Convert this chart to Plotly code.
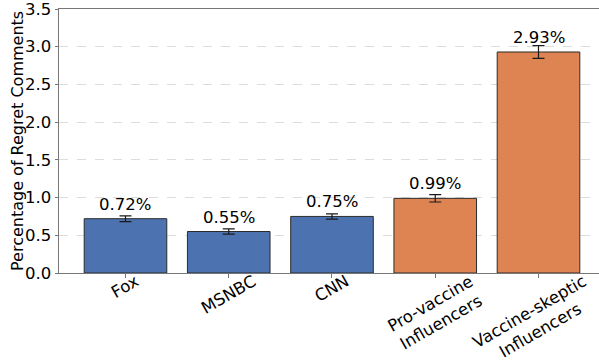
import plotly.graph_objects as go

categories = ["Fox", "MSNBC", "CNN", "Pro-vaccine<br>Influencers", "Vaccine-skeptic<br>Influencers"]
values = [0.72, 0.55, 0.75, 0.99, 2.93]
errors = [0.038, 0.035, 0.035, 0.049, 0.084]
labels = ["0.72%", "0.55%", "0.75%", "0.99%", "2.93%"]
colors = ["#4c72b0", "#4c72b0", "#4c72b0", "#dd8452", "#dd8452"]
y_ticks = [0, 0.5, 1.0, 1.5, 2.0, 2.5, 3.0, 3.5]
y_title = "Percentage of Regret Comments"

FONT = "DejaVu Sans"
FS = 16.5
xs = list(range(len(categories)))

fig = go.Figure()
fig.add_trace(go.Bar(
    x=xs, y=values,
    marker=dict(color=colors, line=dict(color="#2b2b2b", width=1)),
    error_y=dict(type="data", array=errors, visible=True, color="#1a1a1a", thickness=1.2, width=6),
    width=0.8,
    showlegend=False,
))

annotations = []
for x, v, lab in zip(xs, values, labels):
    annotations.append(dict(x=x, y=v, xref="x", yref="y", text=lab, showarrow=False,
                            yanchor="bottom", xanchor="center", yshift=3,
                            font=dict(family=FONT, size=FS, color="#000")))
for x, c in zip(xs, categories):
    annotations.append(dict(x=x, y=0, xref="x", yref="paper", text=c, showarrow=False,
                            textangle=-30, yanchor="top", xanchor="center", yshift=4,
                            xshift=-4 if x == len(xs) - 1 else 0,
                            align="center",
                            font=dict(family=FONT, size=FS, color="#000")))
annotations.append(dict(x=0, y=0.5, xref="paper", yref="paper", text=y_title, showarrow=False,
                        textangle=-90, xanchor="center", yanchor="middle", xshift=-42,
                        font=dict(family=FONT, size=16, color="#000")))

fig.update_layout(
    width=599, height=360,
    margin=dict(l=59, r=0, t=9, b=87),
    plot_bgcolor="white", paper_bgcolor="white",
    font=dict(family=FONT, size=FS, color="#000"),
    annotations=annotations,
    xaxis=dict(range=[-0.644, 4.586], tickvals=xs, showticklabels=False,
               ticks="outside", ticklen=3.5, tickcolor="#777", showgrid=False,
               showline=True, linecolor="#777", linewidth=1, mirror=True, zeroline=False),
    yaxis=dict(range=[0, 3.5], tickvals=y_ticks, tickformat=".1f",
               ticks="outside", ticklen=3.5, tickcolor="#777",
               showline=True, linecolor="#777", linewidth=1,
               showgrid=True, gridcolor="#dddddd", griddash="dash", gridwidth=0.8,
               zeroline=False, ticklabeloverflow="allow",
               tickfont=dict(family=FONT, size=FS)),
)

fig.write_html("out.html")
